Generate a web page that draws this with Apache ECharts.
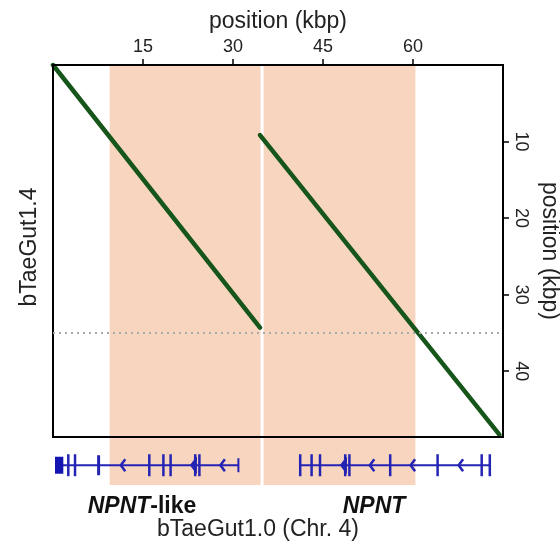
<!DOCTYPE html>
<html><head><meta charset="utf-8">
<script src="https://cdn.jsdelivr.net/npm/echarts@6/dist/echarts.min.js"></script>
<style>html,body{margin:0;padding:0;background:#fff}#c{width:560px;height:558px}</style>
</head><body><div id="c"></div>
<script>
// ---- data (kbp) ----
const xTickLabels = [15, 30, 45, 60];
const yTickLabels = [10, 20, 30, 40];
const alignment1 = [[0, 0], [34.5, 34.3]];
const alignment2 = [[34.5, 9.15], [74.4, 48.3]];
const shadedRegions = [[9.45, 34.6], [35.1, 60.4]];
const dottedY = 35;
const geneSpans = [[0.33, 30.9], [41.2, 72.8]];
const utrBlocks = [[0.33, 1.72]];
const exonTicks = [2.55, 3.67, 16.05, 18.4, 19.6, 23.7, 24.4, 41.2, 43.1, 44.5, 48.7, 49.4, 56.2, 64.1, 71.45, 72.8];
const thickExons = [[7.35, 7.75]];
const shortTicks = [30.9];
const strandArrows = [11.3, 27.9, 52.8, 59.6, 67.6];
const strandTriangles = [22.9, 47.9];
const geneLabels = ['NPNT-like', 'NPNT'];

const GREEN = '#17561b', BLUE = '#2424b4', PEACH = '#f8d5bf';
const FONT = '"Liberation Sans", Arial, sans-serif';

const chart = echarts.init(document.getElementById('c'), null, {renderer: 'canvas'});

function rangeAreas(list) {
  return list.map(r => [{xAxis: r[0]}, {xAxis: r[1]}]);
}
function custom(data, draw) {
  return {
    type: 'custom', xAxisIndex: 1, yAxisIndex: 1, z: 3,
    data: data, silent: true,
    renderItem: function (params, api) { return draw(api); }
  };
}
const lineStyle = {stroke: BLUE, lineWidth: 2};

const option = {
  animation: false,
  backgroundColor: '#fff',
  grid: [
    {left: 53, top: 65, width: 450, height: 372, show: true, borderColor: '#000', borderWidth: 2,
     backgroundColor: 'transparent', z: 5, containLabel: false, outerBoundsMode: 'none'},
    {left: 53, top: 437, width: 450, height: 48, show: false, containLabel: false, outerBoundsMode: 'none'}
  ],
  xAxis: [
    {gridIndex: 0, type: 'value', position: 'top', min: 0, max: 75, interval: 15,
     axisLine: {show: false, onZero: false}, splitLine: {show: false},
     axisTick: {show: true, length: 6, customValues: xTickLabels, lineStyle: {color: '#000', width: 1.5}},
     axisLabel: {customValues: xTickLabels, fontSize: 18, color: '#222', fontFamily: FONT, margin: 9},
     name: 'position (kbp)', nameLocation: 'middle', nameGap: 31,
     nameTextStyle: {fontSize: 23, color: '#222', fontFamily: FONT}},
    {gridIndex: 1, type: 'value', min: 0, max: 75, show: false}
  ],
  yAxis: [
    {gridIndex: 0, type: 'value', position: 'right', inverse: true, min: 0, max: 48.6, interval: 10,
     axisLine: {show: false, onZero: false}, splitLine: {show: false},
     axisTick: {show: true, length: 6, customValues: yTickLabels, lineStyle: {color: '#000', width: 1.5}},
     axisLabel: {customValues: yTickLabels, rotate: -90, fontSize: 18, color: '#222', fontFamily: FONT, margin: 9},
     name: 'position (kbp)', nameLocation: 'middle', nameRotate: -90, nameGap: 28,
     nameTextStyle: {fontSize: 23, color: '#222', fontFamily: FONT}},
    {gridIndex: 1, type: 'value', min: -0.7, max: 1, show: false}
  ],
  series: [
    {type: 'line', xAxisIndex: 0, yAxisIndex: 0, data: [], z: 1, silent: true,
     markArea: {silent: true, itemStyle: {color: PEACH}, data: rangeAreas(shadedRegions)},
     markLine: {silent: true, symbol: 'none', label: {show: false},
       lineStyle: {color: '#aaa', type: [2, 4], width: 2}, data: [{yAxis: dottedY}]}},
    {type: 'line', xAxisIndex: 1, yAxisIndex: 1, data: [], z: 1, silent: true,
     markArea: {silent: true, itemStyle: {color: PEACH}, data: rangeAreas(shadedRegions)}},
    {type: 'line', xAxisIndex: 0, yAxisIndex: 0, data: alignment1, symbol: 'none', z: 4,
     lineStyle: {color: GREEN, width: 4.5, cap: 'round'}},
    {type: 'line', xAxisIndex: 0, yAxisIndex: 0, data: alignment2, symbol: 'none', z: 4,
     lineStyle: {color: GREEN, width: 4.5, cap: 'round'}},
    // gene backbone
    custom(geneSpans, function (api) {
      const a = api.coord([api.value(0), 0]), b = api.coord([api.value(1), 0]);
      return {type: 'line', shape: {x1: a[0], y1: a[1], x2: b[0], y2: b[1]}, style: lineStyle};
    }),
    // UTR block
    custom(utrBlocks, function (api) {
      const a = api.coord([api.value(0), 0]), b = api.coord([api.value(1), 0]);
      return {type: 'rect', shape: {x: a[0], y: a[1] - 8.5, width: b[0] - a[0], height: 17}, style: {fill: '#1414b0'}};
    }),
    // thick exon
    custom(thickExons, function (api) {
      const a = api.coord([api.value(0), 0]), b = api.coord([api.value(1), 0]);
      return {type: 'rect', shape: {x: a[0], y: a[1] - 10, width: Math.max(3, b[0] - a[0]), height: 20}, style: {fill: BLUE}};
    }),
    // exon ticks
    custom(exonTicks, function (api) {
      const a = api.coord([api.value(0), 0]);
      return {type: 'line', shape: {x1: a[0], y1: a[1] - 11, x2: a[0], y2: a[1] + 11}, style: {stroke: BLUE, lineWidth: 2.5}};
    }),
    custom(shortTicks, function (api) {
      const a = api.coord([api.value(0), 0]);
      return {type: 'line', shape: {x1: a[0], y1: a[1] - 7, x2: a[0], y2: a[1] + 7}, style: {stroke: BLUE, lineWidth: 2}};
    }),
    // strand arrows
    custom(strandArrows, function (api) {
      const a = api.coord([api.value(0), 0]);
      return {type: 'polyline', shape: {points: [[a[0] + 4.5, a[1] - 6], [a[0], a[1]], [a[0] + 4.5, a[1] + 6]]}, style: {stroke: BLUE, lineWidth: 2.5, fill: null}};
    }),
    custom(strandTriangles, function (api) {
      const a = api.coord([api.value(0), 0]);
      return {type: 'polygon', shape: {points: [[a[0] + 6, a[1] - 8], [a[0], a[1]], [a[0] + 6, a[1] + 8]]}, style: {fill: BLUE, stroke: BLUE, lineWidth: 1}};
    })
  ],
  graphic: [
    {type: 'text', x: 30, y: 247, rotation: Math.PI / 2, silent: true,
     style: {text: 'bTaeGut1.4', align: 'center', verticalAlign: 'middle', fontSize: 23, fill: '#222', fontFamily: FONT}},
    {type: 'text', silent: true,
     style: {text: '{i|NPNT}{b|-like}', x: 142, y: 507, align: 'center', verticalAlign: 'middle',
       rich: {i: {fontSize: 23, fontWeight: 'bold', fontStyle: 'italic', fill: '#111', fontFamily: FONT},
              b: {fontSize: 23, fontWeight: 'bold', fill: '#111', fontFamily: FONT}}}},
    {type: 'text', silent: true,
     style: {text: geneLabels[1], x: 374, y: 507, align: 'center', verticalAlign: 'middle',
       fontSize: 23, fontWeight: 'bold', fontStyle: 'italic', fill: '#111', fontFamily: FONT}},
    {type: 'text', silent: true,
     style: {text: 'bTaeGut1.0 (Chr. 4)', x: 258, y: 530, align: 'center', verticalAlign: 'middle',
       fontSize: 23, fill: '#222', fontFamily: FONT}}
  ]
};
chart.setOption(option);
</script>
</body></html>
